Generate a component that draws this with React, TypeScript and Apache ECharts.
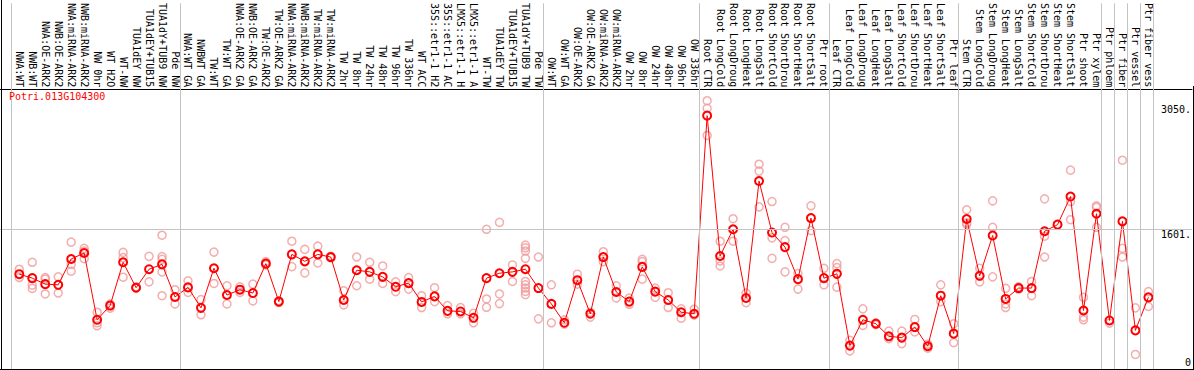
import React, { useEffect, useRef } from "react";
import * as echarts from "echarts";

const geneId = "Potri.013G104300";

const categories = [
  "NWA:WT", "NWB:WT", "NWA:OE-ARK2", "NWB:OE-ARK2", "NWA:miRNA-ARK2", "NWB:miRNA-ARK2",
  "NW 0hr", "WT H2O", "WT-NW", "TUA1dEY NW", "TUA1dEY+TUB15", "TUA1dY+TUB9 NW", "Pde NW",
  "NWA:WT GA", "NWBWT GA", "TW:WT", "TW:WT GA", "NWA:OE-ARK2 GA", "NWB:OE-ARK2 GA",
  "TW:OE-ARK2", "TW:OE-ARK2 GA", "NWA:miRNA-ARK2", "NWB:miRNA-ARK2", "TW:miRNA-ARK2",
  "TW:miRNA-ARK2", "TW 2hr", "TW 8hr", "TW 24hr", "TW 48hr", "TW 96hr", "TW 336hr",
  "WT ACC", "35S::etr1-1 H2", "35S::etr1-1 AC", "LMX5::etr1-1 H", "LMX5::etr1-1 A",
  "WT-TW", "TUA1dEY TW", "TUA1dEY+TUB15", "TUA1dY+TUB9 TW", "Pde TW",
  "OW:WT", "OW:WT GA", "OW:OE-ARK2", "OW:OE-ARK2 GA", "OW:miRNA-ARK2", "OW:miRNA-ARK2",
  "OW 2hr", "OW 8hr", "OW 24hr", "OW 48hr", "OW 96hr", "OW 336hr",
  "Root CTR", "Root LongCold", "Root LongDroug", "Root LongHeat", "Root LongSalt",
  "Root ShortCold", "Root ShortDrou", "Root ShortHeat", "Root ShortSalt", "Ptr root",
  "Leaf CTR", "Leaf LongCold", "Leaf LongDroug", "Leaf LongHeat", "Leaf LongSalt",
  "Leaf ShortCold", "Leaf ShortDrou", "Leaf ShortHeat", "Leaf ShortSalt", "Ptr leaf",
  "Stem CTR", "Stem LongCold", "Stem LongDroug", "Stem LongHeat", "Stem LongSalt",
  "Stem ShortCold", "Stem ShortDrou", "Stem ShortHeat", "Stem ShortSalt",
  "Ptr shoot", "Ptr xylem", "Ptr phloem", "Ptr fiber", "Ptr vessel", "Ptr fiber vess",
];

const means = [
  1080, 1034, 964, 956, 1257, 1327, 548, 714, 1219, 922, 1138, 1195, 814,
  926, 687, 1149, 837, 899, 860, 1203, 760, 1311, 1230, 1311, 1280, 779, 1126, 1107, 1049, 933, 976,
  756, 821, 652, 645, 571, 1034, 1091, 1107, 1138, 918,
  733, 513, 1010, 618, 1280, 872, 760, 1165, 876, 779, 636, 618,
  2930, 1292, 1604, 802, 2167, 1566, 1396, 1022, 1735, 1034,
  1084, 247, 548, 502, 355, 340, 463, 239, 829, 386,
  1724, 1061, 1531, 791, 918, 918, 1581, 1658, 1986, 656, 1785, 540, 1697, 424, 810,
];

const replicates = [
  [1138, 1041], [1219, 953, 914], [1041, 1022, 849], [1049, 860], [1454, 1195, 1115],
  [1381, 1350, 1261], [636, 513, 478], [733, 683], [1334, 1273, 1045], [933, 920],
  [1288, 991], [1535, 1285, 1254, 1107, 829], [899, 733],
  [1003, 868], [783, 606], [1338, 972], [945, 733], [933, 868], [964, 768], [1226, 1188],
  [770, 750], [1465, 1168], [1369, 1095], [1407, 1211], [1290, 1270], [887, 721], [1280, 945],
  [1219, 1022], [1176, 972], [991, 875], [1041, 906],
  [829, 691], [922, 760], [714, 618], [691, 618], [625, 513], [1604, 791, 694],
  [1685, 849, 737], [1188, 995], [1419, 1388, 1350, 1265, 995, 956, 918, 879, 841], [1280, 559],
  [956, 513], [548, 498], [1080, 964], [636, 579], [1342, 1226], [945, 802], [802, 729],
  [1254, 1226, 1022], [918, 810], [864, 691], [675, 567], [671, 602],
  [3104, 3015, 2699], [1465, 1234, 1176], [1727, 1465], [860, 748], [2363, 2283, 1866],
  [1928, 1504, 1265], [1627, 1473, 1107], [1087, 906], [1878, 1589], [1149, 956],
  [1203, 1157, 929], [309, 185], [675, 482], [513, 490], [417, 328], [417, 270], [552, 406],
  [263, 216], [956, 760], [502, 282],
  [1832, 1681, 1662], [1149, 991], [1936, 1627, 1049], [914, 733, 691], [933, 905], [995, 829],
  [1959, 1523, 1280], [1658], [2294, 1928, 1716], [810, 579, 548], [1878, 1860, 1627], [509],
  [2410, 1381, 1280], [687, 143], [876, 703],
];

const groupSeparators = [-0.62, 12.38, 40.38, 52.38, 62.38, 72.38, 83.38, 84.38, 85.38, 86.38, 87.38];
const gridValue = 1601;
const yTickValues = [0, 1601, 3050];
const yTickLabels = ["0", "1601.", "3050."];

const FONT = "DejaVu Sans Mono";

export default function App() {
  const ref = useRef<HTMLDivElement>(null);
  useEffect(() => {
    if (!ref.current) return;
    const chart = echarts.init(ref.current, null, { renderer: "svg" });
    const idx = categories.map((_, i) => i);
    const meanData = means.map((v, i) => [i, v]);
    const repData: number[][] = [];
    replicates.forEach((arr, i) => arr.forEach((v) => repData.push([i, v])));

    chart.setOption({
      animation: false,
      backgroundColor: "#ffffff",
      title: {
        text: geneId,
        left: 9,
        top: 91,
        padding: 0,
        textStyle: { color: "#ff0000", fontFamily: FONT, fontSize: 10, fontWeight: "normal" },
      },
      grid: { left: 0, right: 0, top: 0, bottom: 0, containLabel: false },
      xAxis: {
        type: "value",
        min: -1.485,
        max: 90.36,
        position: "top",
        offset: -86,
        axisLine: { show: true, onZero: false, lineStyle: { color: "#000", width: 1 } },
        axisTick: { show: false },
        splitLine: { show: false },
        axisLabel: {
          customValues: idx,
          formatter: (v: number) => categories[Math.round(v)] ?? "",
          rotate: 90,
          margin: 2,
          fontFamily: FONT,
          fontSize: 10,
          color: "#000",
        },
      },
      yAxis: {
        type: "value",
        min: -38,
        max: 4241,
        position: "right",
        axisLine: { show: false, onZero: false },
        axisTick: { show: false },
        splitLine: { show: false },
        axisLabel: {
          inside: true,
          customValues: yTickValues,
          formatter: (v: number) => yTickLabels[yTickValues.indexOf(v)] ?? "",
          margin: 1,
          verticalAlign: "top",
          verticalAlignMinLabel: "bottom",
          lineHeight: 9,
          fontFamily: FONT,
          fontSize: 10,
          color: "#000",
        },
      },
      graphic: [
        { type: "line", shape: { x1: 1.5, y1: 0, x2: 1.5, y2: 370 }, style: { stroke: "#000", lineWidth: 1 }, z: 100 },
        { type: "line", shape: { x1: 1193.5, y1: 86, x2: 1193.5, y2: 370 }, style: { stroke: "#000", lineWidth: 1 }, z: 100 },
        { type: "line", shape: { x1: 0, y1: 369.5, x2: 1194, y2: 369.5 }, style: { stroke: "#000", lineWidth: 1 }, z: 100 },
      ],
      series: [
        {
          type: "line",
          data: [],
          z: 1,
          silent: true,
          markLine: {
            silent: true,
            symbol: "none",
            label: { show: false },
            lineStyle: { color: "#c4c4c4", width: 1, type: "solid" },
            data: [
              ...groupSeparators.map((x) => ({ xAxis: x })),
              { yAxis: gridValue },
            ],
          },
        },
        {
          type: "scatter",
          data: repData,
          z: 2,
          symbol: "circle",
          symbolSize: 8,
          itemStyle: { color: "rgba(0,0,0,0)", borderColor: "#f09a9a", borderWidth: 1.5 },
        },
        {
          type: "line",
          data: meanData,
          z: 3,
          symbol: "circle",
          symbolSize: 8,
          lineStyle: { color: "#ff0000", width: 1 },
          itemStyle: { color: "rgba(255,0,0,0)", borderColor: "#ff0000", borderWidth: 2 },
        },
      ],
    });
    return () => chart.dispose();
  }, []);
  return (
    <div
      ref={ref}
      style={{ position: "fixed", left: 0, top: 0, width: 1194, height: 370 }}
    />
  );
}
